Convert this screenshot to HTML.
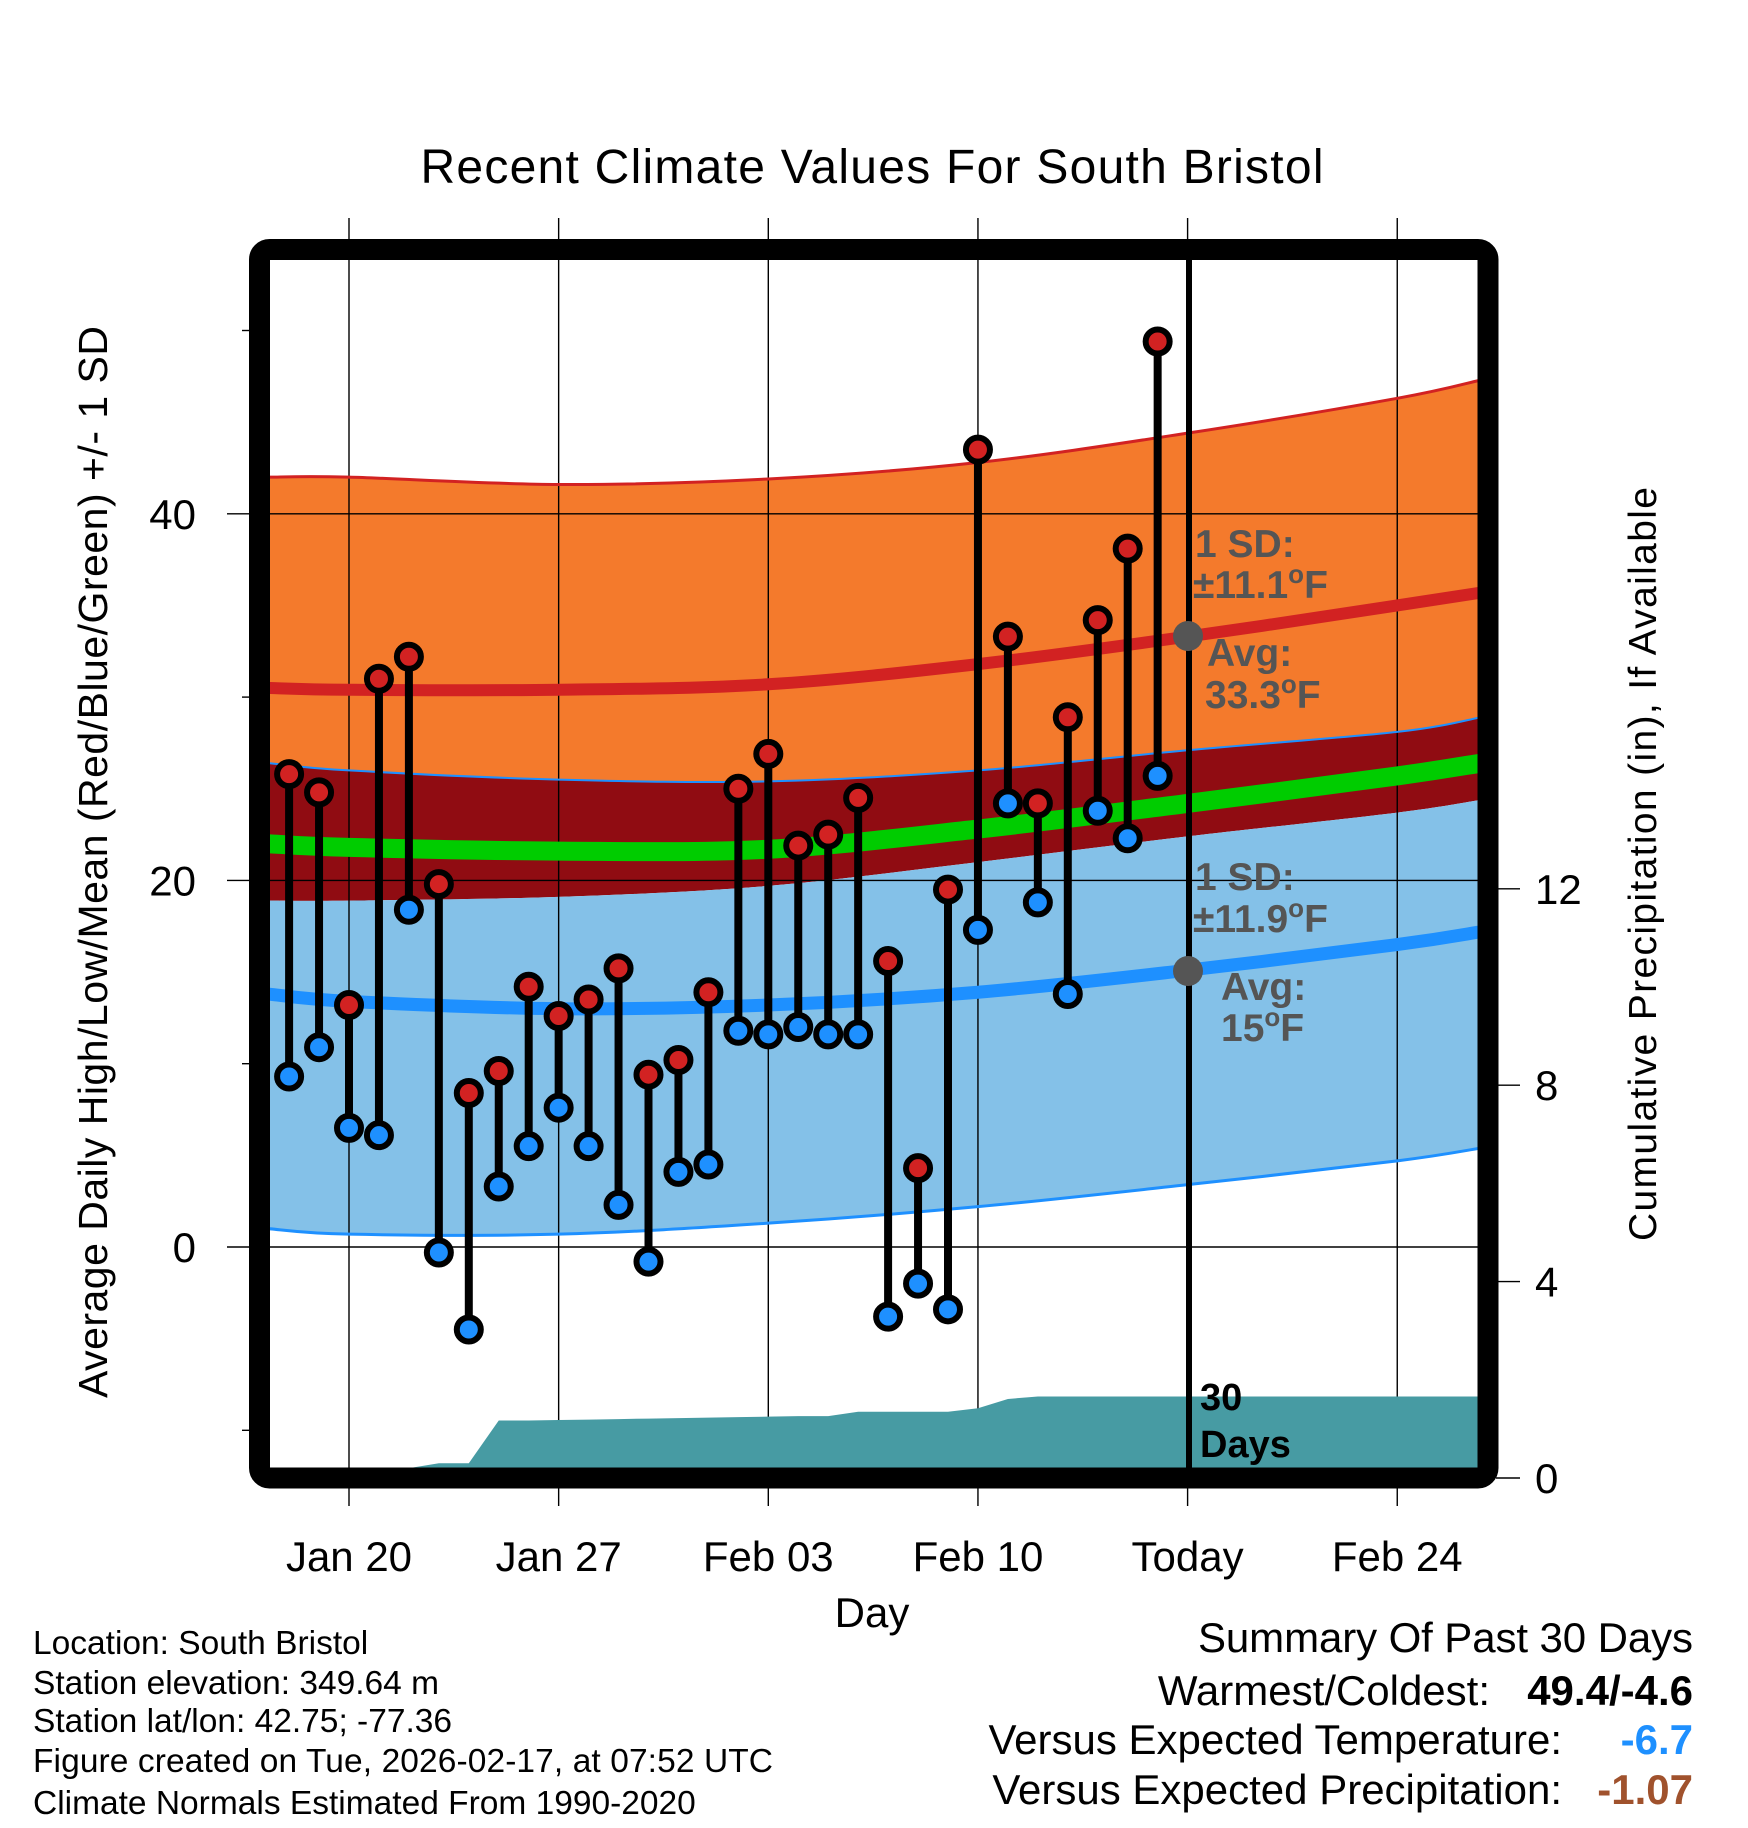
<!DOCTYPE html>
<html><head><meta charset="utf-8"><style>
html,body{margin:0;padding:0;background:#fff;}
svg{display:block;font-family:"Liberation Sans",Arial,sans-serif;}
</style></head><body>
<svg id="chart" width="1748" height="1828" viewBox="0 0 1748 1828" xmlns="http://www.w3.org/2000/svg">
<defs><clipPath id="plotClip"><rect x="270" y="260" width="1208" height="1208"/></clipPath></defs>
<g id="bands" clip-path="url(#plotClip)"></g>
<g id="grid"></g>
<g id="precip" clip-path="url(#plotClip)"></g>
<g id="lines" clip-path="url(#plotClip)"></g>
<g id="marks"></g>
<line x1="1189" y1="260" x2="1189" y2="1468" stroke="#000" stroke-width="6"/>
<circle cx="1188" cy="636" r="15" fill="#555"/>
<circle cx="1188" cy="971" r="15" fill="#555"/>
<g font-weight="bold" fill="#555" font-size="39">
<text x="1195" y="557">1 SD:</text>
<text x="1193" y="598">±11.1<tspan font-size="26" dy="-15">o</tspan><tspan dy="15">F</tspan></text>
<text x="1207" y="666">Avg:</text>
<text x="1205" y="708">33.3<tspan font-size="26" dy="-15">o</tspan><tspan dy="15">F</tspan></text>
<text x="1195" y="890">1 SD:</text>
<text x="1193" y="932">±11.9<tspan font-size="26" dy="-15">o</tspan><tspan dy="15">F</tspan></text>
<text x="1221" y="1000">Avg:</text>
<text x="1221" y="1041">15<tspan font-size="26" dy="-15">o</tspan><tspan dy="15">F</tspan></text>
</g>
<g font-weight="bold" fill="#000" font-size="38">
<text x="1200" y="1410">30</text>
<text x="1200" y="1457">Days</text>
</g>
<rect x="259.5" y="249.5" width="1228.5" height="1228.5" rx="10" fill="none" stroke="#000" stroke-width="21"/>
<g id="ticks"></g>
<text x="872" y="183" text-anchor="middle" font-size="48" textLength="903">Recent Climate Values For South Bristol</text>
<text x="872" y="1627" text-anchor="middle" font-size="42">Day</text>
<text transform="translate(107,862) rotate(-90)" text-anchor="middle" font-size="41" textLength="1072">Average Daily High/Low/Mean (Red/Blue/Green) +/- 1 SD</text>
<text transform="translate(1656,864) rotate(-90)" text-anchor="middle" font-size="39" textLength="754">Cumulative Precipitation (in), If Available</text>
<g font-size="33.5" fill="#000">
<text x="33" y="1654">Location: South Bristol</text>
<text x="33" y="1694">Station elevation: 349.64 m</text>
<text x="33" y="1732">Station lat/lon: 42.75; -77.36</text>
<text x="33" y="1772" textLength="740">Figure created on Tue, 2026-02-17, at 07:52 UTC</text>
<text x="33" y="1814">Climate Normals Estimated From 1990-2020</text>
</g>
<g font-size="42" fill="#000" text-anchor="end">
<text x="1693" y="1652" textLength="495">Summary Of Past 30 Days</text>
<text x="1490" y="1705">Warmest/Coldest:</text>
<text x="1693" y="1705" font-weight="bold">49.4/-4.6</text>
<text x="1562" y="1754">Versus Expected Temperature:</text>
<text x="1693" y="1754" font-weight="bold" fill="#1E90FF">-6.7</text>
<text x="1562" y="1804">Versus Expected Precipitation:</text>
<text x="1693" y="1804" font-weight="bold" fill="#A0522D">-1.07</text>
</g>
</svg>
<script>
// days offset from Jan 20
const normDays = [-2.7, 0, 7, 14, 21, 28, 35, 37.8];
const highPlusSD = [42.0, 42.0, 41.6, 41.9, 42.8, 44.4, 46.3, 47.3];
const highAvg = [30.5, 30.4, 30.4, 30.7, 31.8, 33.3, 35.0, 35.7];
const highMinusSD = [26.4, 26.0, 25.5, 25.4, 26.0, 27.1, 28.1, 28.9];
const meanAvg = [22.0, 21.8, 21.6, 21.7, 22.8, 24.2, 25.7, 26.4];
const lowPlusSD = [18.9, 18.9, 19.1, 19.7, 21.0, 22.4, 23.7, 24.4];
const lowAvg = [13.8, 13.4, 13.0, 13.2, 13.9, 15.1, 16.5, 17.2];
const lowMinusSD = [1.0, 0.7, 0.7, 1.3, 2.2, 3.4, 4.7, 5.4];
// daily obs Jan 18 .. Feb 16 (day offset -2 .. 27)
const obsDays = [-2,-1,0,1,2,3,4,5,6,7,8,9,10,11,12,13,14,15,16,17,18,19,20,21,22,23,24,25,26,27];
const highs = [25.8,24.8,13.2,31.0,32.2,19.8,8.4,9.6,14.2,12.6,13.5,15.2,9.4,10.2,13.9,25.0,26.9,21.9,22.5,24.5,15.6,4.3,19.5,43.5,33.3,24.2,28.9,34.2,38.1,49.4];
const lows = [9.3,10.9,6.5,6.1,18.4,-0.3,-4.5,3.3,5.5,7.6,5.5,2.3,-0.8,4.1,4.5,11.8,11.6,12.0,11.6,11.6,-3.8,-2.0,-3.4,17.3,24.2,18.8,13.8,23.8,22.3,25.7];
const precipDays = [-2.7,-2,-1,0,1,2,3,4,5,6,7,8,9,10,11,12,13,14,15,16,17,18,19,20,21,22,23,24,25,26,27,37.8];
const precipCum = [0.1,0.1,0.1,0.1,0.1,0.2,0.3,0.3,1.17,1.17,1.18,1.19,1.2,1.21,1.22,1.23,1.24,1.25,1.26,1.26,1.35,1.35,1.35,1.35,1.42,1.61,1.66,1.66,1.66,1.66,1.66,1.66];
const xTickDays = [0,7,14,21,28,35];
const xTickLabels = ["Jan 20","Jan 27","Feb 03","Feb 10","Today","Feb 24"];
const yTicks = [0,20,40];
const yMinor = [-10,10,30,50];
const y2Ticks = [0,4,8,12];

const NS="http://www.w3.org/2000/svg";
const xS=d=>349+d*29.95;
const yT=t=>1247-t*18.33;
const yP=p=>1478-p*49.1;
function mk(tag,attrs,parent){const e=document.createElementNS(NS,tag);for(const k in attrs)e.setAttribute(k,attrs[k]);parent.appendChild(e);return e;}
const bands=document.getElementById('bands'),grid=document.getElementById('grid'),precip=document.getElementById('precip'),lines=document.getElementById('lines'),marks=document.getElementById('marks'),ticks=document.getElementById('ticks');
// smooth path (catmull-rom) through points
function smooth(pts,start){let d=start?('M'+pts[0][0]+','+pts[0][1]):('L'+pts[0][0]+','+pts[0][1]);
 for(let i=0;i<pts.length-1;i++){const p0=pts[Math.max(0,i-1)],p1=pts[i],p2=pts[i+1],p3=pts[Math.min(pts.length-1,i+2)];
  const c1=[p1[0]+(p2[0]-p0[0])/6,p1[1]+(p2[1]-p0[1])/6],c2=[p2[0]-(p3[0]-p1[0])/6,p2[1]-(p3[1]-p1[1])/6];
  d+=' C'+c1[0]+','+c1[1]+' '+c2[0]+','+c2[1]+' '+p2[0]+','+p2[1];}
 return d;}
function ptsOf(arr){return normDays.map((d,i)=>[xS(d),yT(arr[i])]);}
function lineD(arr){return smooth(ptsOf(arr),true);}
function bandD(top,bot){return smooth(ptsOf(top),true)+' '+smooth(ptsOf(bot).reverse(),false)+' Z';}
let e;
e=mk('path',{d:bandD(highPlusSD,highMinusSD),fill:'#F47A2C'},bands);


e=mk('path',{d:bandD(highMinusSD,lowPlusSD),fill:'#900C12'},bands);


e=mk('path',{d:bandD(lowPlusSD,lowMinusSD),fill:'#84C1E8'},bands);


xTickDays.forEach((d,i)=>{
 e=mk('line',{x1:xS(d),x2:xS(d),y1:218,y2:1506,stroke:'#000','stroke-width':1.4},grid);
 
 
 e=mk('text',{x:xS(d),y:1571,'text-anchor':'middle','font-size':42},ticks);e.textContent=xTickLabels[i];
 
 
});
yTicks.forEach(t=>{
 e=mk('line',{x1:227,x2:1478,y1:yT(t),y2:yT(t),stroke:'#000','stroke-width':1.4},grid);
 
 
 e=mk('text',{x:196,y:yT(t)+15,'text-anchor':'end','font-size':42},ticks);e.textContent=t;
 
 
});
yMinor.forEach(t=>{
 e=mk('line',{x1:242,x2:252,y1:yT(t),y2:yT(t),stroke:'#000','stroke-width':1.4},ticks);
 
 
});
y2Ticks.forEach(p=>{
 e=mk('line',{x1:1496,x2:1520,y1:yP(p),y2:yP(p),stroke:'#000','stroke-width':1.4},ticks);
 
 
 e=mk('text',{x:1535,y:yP(p)+15,'font-size':42},ticks);e.textContent=p;
 
 
});
{const pts=precipDays.map((d,i)=>xS(d)+','+yP(precipCum[i]));pts.push(xS(37.8)+','+1480);pts.push(xS(-2.7)+','+1480);
 e=mk('polygon',{points:pts.join(' '),fill:'#479BA3'},precip);
 
 }
e=mk('path',{d:lineD(highPlusSD),fill:'none',stroke:'#D22222','stroke-width':3},lines);


e=mk('path',{d:lineD(highMinusSD),fill:'none',stroke:'#1E90FF','stroke-width':2},lines);


e=mk('path',{d:lineD(lowMinusSD),fill:'none',stroke:'#1E90FF','stroke-width':3},lines);


e=mk('path',{d:lineD(highAvg),fill:'none',stroke:'#D22222','stroke-width':12},lines);


e=mk('path',{d:lineD(meanAvg),fill:'none',stroke:'#00CC00','stroke-width':19},lines);


e=mk('path',{d:lineD(lowAvg),fill:'none',stroke:'#1E90FF','stroke-width':13},lines);


obsDays.forEach((d,i)=>{
 const x=xS(d);
 e=mk('line',{x1:x,x2:x,y1:yT(highs[i]),y2:yT(lows[i]),stroke:'#000','stroke-width':8},marks);
 
 
 e=mk('circle',{cx:x,cy:yT(highs[i]),r:12,fill:'#D22222',stroke:'#000','stroke-width':6},marks);
 
 
 e=mk('circle',{cx:x,cy:yT(lows[i]),r:12,fill:'#1E90FF',stroke:'#000','stroke-width':6},marks);
 
 
});
</script>
</body></html>
